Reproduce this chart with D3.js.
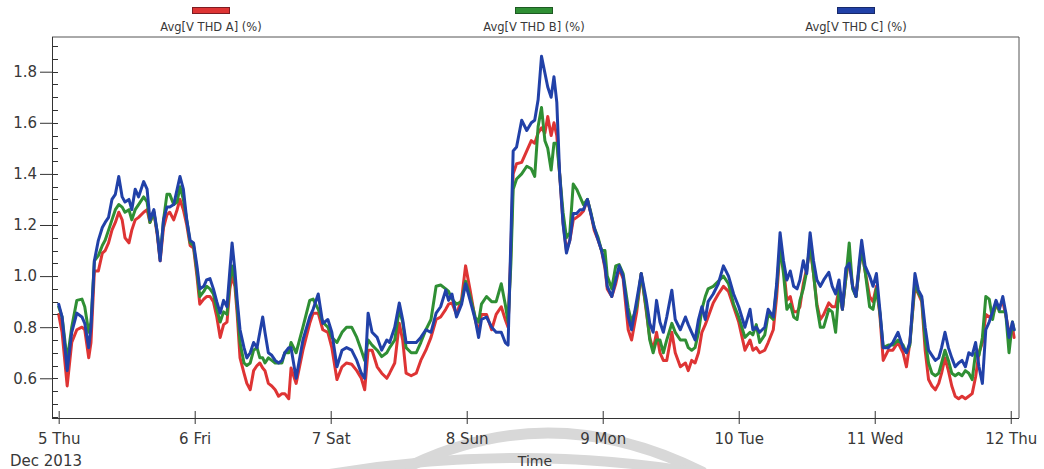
<!DOCTYPE html>
<html>
<head>
<meta charset="utf-8">
<script src="https://cdn.jsdelivr.net/npm/d3@7"></script>
<style>
  body { margin: 0; background: #fff; }
  svg { display: block; font-family: "DejaVu Sans", Verdana, sans-serif; }
</style>
</head>
<body>
<svg id="chart" width="1044" height="469"></svg>
<script>
// Voltage THD averages, one sample list per phase, hours after 5 Dec 2013 00:00
const seriesNames = ["Avg[V THD A] (%)", "Avg[V THD B] (%)", "Avg[V THD C] (%)"];
const seriesColors = ["#de3434", "#2f8f34", "#2141a8"];
const swatchBorders = ["#7d1c22", "#1d5a22", "#17296a"];

const hours = [
  0,0.6,1.5,2.3,3.2,4.1,4.6,5.3,5.7,6.3, 7.0,7.7,8.2,8.8,9.4,10.0,10.6,11.2,11.7,12.4,
  12.9,13.5,14.1,15.0,15.6,16.1,16.8,17.4,17.9,18.5, 19.1,19.6,20.3,20.9,21.4,22.0,22.6,23.2,23.8,
  24.4,24.9,25.6,26.1,26.7,27.3,27.9,28.5,29.1,29.7, 30.2,30.6,31.1,31.5,32.0,32.7,33.2,33.8,34.4,35.0,
  35.5,36.0,36.4,37.0,37.6,38.2,38.8,39.4,39.9,40.6, 41.0,41.9,43.1,44.3,44.9,45.8,46.6,47.5,
  48.2,49.1,50.0,50.8,51.7,52.6,53.4,54.0,54.6,55.3, 56.2,57.0,57.9,58.4,59.3,60.1,60.7,61.3,62.2,63.1,
  63.9,64.8,65.7,66.6,67.4,68.3,68.8,69.4,70.2,71.1, 71.8,
  72.6,73.5,74.1,74.6,75.5,76.4,77.2,78.1,78.8,79.3, 79.8,80.2,80.8,81.7,82.6,83.4,84.0,84.6,85.2,85.8,
  86.3,86.9,87.4,87.9,88.4,89.0,89.6,90.2,90.8,91.4, 92.0,92.6,93.3,93.9,94.5,95.2,95.8,
  96.4,96.8,97.6,98.3,98.9,99.6,100.5,101.1,102.0,102.8, 103.7,104.3,104.9,105.5,106.1,106.7,107.3,108.2,108.8,109.7,
  110.6,111.1,111.7,112.3,112.9,113.5,114.1,114.6,115.5,116.4, 117.3,118.2,119.1,
  120.0,121.1,122.0,122.5,123.1,123.7,124.6,125.2,126.1,126.7, 127.3,127.9,128.5,129.1,129.7,130.3,130.8,131.4,132.0,132.6,
  133.2,133.8,134.4,135.0,135.9,136.5,137.1,137.7,138.3,138.9, 139.5,140.1,140.7,141.3,141.7,142.3,143.1,143.7,
  144.3,144.9,145.5,146.4,147.2,148.1,149.0,149.6,150.2,151.1, 151.7,152.3,152.9,153.5,154.1,154.7,155.3,155.8,156.4,157.0,
  157.6,158.2,158.8,159.4,160.0,160.6,161.2,161.8,162.4,163.0, 163.6,164.2,164.8,165.4,166.0,166.6,167.1,167.7,168.3,168.6
];

const thdA = [
  .85,.78,.57,.74,.79,.80,.79,.68,.74,1.02, 1.02,1.09,1.10,1.13,1.18,1.21,1.25,1.22,1.15,1.13,
  1.18,1.22,1.23,1.25,1.26,1.21,1.25,1.16,1.06,1.19, 1.24,1.25,1.22,1.26,1.30,1.26,1.20,1.12,1.11,
  1.00,.89,.91,.92,.92,.90,.84,.76,.81,.82, .95,1.00,.96,.85,.68,.62,.58,.555,.63,.65,
  .66,.64,.63,.58,.57,.555,.53,.54,.54,.52, .64,.58,.71,.815,.855,.855,.79,.78,
  .72,.595,.645,.66,.655,.63,.60,.555,.71,.71, .645,.62,.60,.62,.66,.815,.75,.62,.61,.62,
  .67,.71,.76,.83,.84,.87,.89,.895,.85,.91, 1.04,
  .945,.83,.78,.85,.85,.79,.85,.88,.83,.80, 1.10,1.40,1.44,1.445,1.49,1.53,1.52,1.56,1.58,1.56,
  1.625,1.55,1.60,1.55,1.40,1.21,1.10,1.14,1.22,1.23, 1.24,1.255,1.30,1.245,1.18,1.14,1.10,
  1.03,.95,.92,.97,1.03,.99,.79,.75,.86,1.01, .86,.76,.71,.78,.70,.67,.67,.78,.70,.645,
  .66,.63,.67,.66,.70,.78,.81,.84,.895,.93, .96,.94,.88,
  .82,.71,.75,.71,.72,.70,.71,.74,.79,.92, 1.11,1.04,.905,.92,.86,.86,.88,.97,1.03,1.11,
  1.01,.89,.83,.85,.895,.88,.88,.95,.87,.99, 1.07,.96,.92,1.04,1.10,1.02,.92,.90,
  .96,.85,.67,.71,.71,.74,.70,.645,.74,.96, .93,.90,.71,.595,.57,.555,.58,.62,.68,.63,
  .57,.53,.52,.53,.52,.53,.54,.605,.70,.74, .85,.84,.85,.88,.88,.90,.85,.78,.80,.76
];

const thdB = [
  .88,.84,.67,.80,.905,.91,.88,.78,.82,1.06, 1.08,1.12,1.14,1.18,1.22,1.26,1.28,1.27,1.25,1.26,
  1.22,1.26,1.28,1.31,1.29,1.21,1.25,1.17,1.07,1.22, 1.32,1.32,1.28,1.29,1.35,1.30,1.22,1.13,1.12,
  1.02,.92,.94,.96,.95,.93,.87,.82,.86,.85, .98,1.04,.98,.88,.74,.66,.65,.66,.71,.72,
  .68,.68,.66,.68,.67,.66,.66,.66,.70,.70, .74,.70,.80,.905,.91,.87,.82,.80,
  .76,.74,.78,.80,.80,.76,.71,.67,.75,.73, .71,.685,.70,.72,.75,.87,.82,.72,.70,.70,
  .74,.79,.83,.96,.965,.95,.94,.91,.89,.90, .98,
  .92,.84,.82,.89,.92,.90,.90,.97,.89,.82, 1.05,1.34,1.38,1.40,1.43,1.42,1.39,1.585,1.66,1.53,
  1.50,1.415,1.52,1.52,1.40,1.25,1.15,1.17,1.36,1.34, 1.31,1.28,1.30,1.25,1.19,1.15,1.10,
  1.10,1.00,.95,1.04,1.045,1.01,.875,.82,.88,1.01, .87,.75,.70,.75,.75,.70,.75,.815,.78,.75,
  .75,.72,.71,.72,.78,.87,.92,.95,.96,.98, 1.00,.97,.89,
  .84,.76,.78,.77,.81,.74,.77,.85,.83,.96, 1.11,1.01,.87,.89,.84,.83,.905,.95,1.02,1.13,
  1.01,.88,.80,.80,.87,.86,.78,.95,.87,.99, 1.13,.95,.92,1.04,1.10,1.02,.88,.87,
  .95,.86,.72,.73,.73,.75,.73,.70,.73,.98, .935,.91,.75,.66,.62,.61,.62,.66,.71,.67,
  .62,.61,.62,.61,.63,.62,.595,.70,.69,.76, .92,.91,.83,.90,.86,.86,.86,.70,.82,.79
];

const thdC = [
  .89,.84,.63,.78,.855,.84,.815,.72,.80,1.06, 1.14,1.19,1.21,1.23,1.30,1.32,1.39,1.31,1.29,1.30,
  1.26,1.34,1.31,1.37,1.34,1.22,1.26,1.17,1.06,1.22, 1.27,1.27,1.28,1.34,1.39,1.34,1.22,1.14,1.13,
  1.04,.95,.96,.985,.99,.95,.90,.855,.905,.88, 1.02,1.13,1.02,.905,.79,.72,.68,.70,.74,.72,
  .78,.84,.78,.70,.69,.67,.66,.67,.70,.72, .72,.60,.75,.84,.87,.93,.815,.83,
  .78,.645,.71,.72,.71,.67,.62,.60,.855,.78, .76,.71,.75,.74,.80,.895,.83,.74,.74,.74,
  .76,.79,.78,.855,.88,.945,.905,.93,.84,.89, .97,
  .905,.83,.76,.83,.84,.80,.78,.78,.74,.73, 1.15,1.49,1.505,1.61,1.57,1.60,1.61,1.69,1.86,1.795,
  1.74,1.70,1.78,1.68,1.40,1.205,1.09,1.14,1.245,1.245, 1.26,1.26,1.30,1.245,1.19,1.14,1.10,
  1.04,.96,.92,.985,1.04,1.00,.84,.79,.905,1.01, .905,.815,.78,.905,.82,.78,.84,.945,.83,.79,
  .84,.81,.78,.75,.83,.88,.83,.90,.93,.97, 1.04,1.00,.93,
  .88,.80,.87,.79,.80,.78,.80,.87,.84,.97, 1.17,1.06,.985,1.02,.96,.95,.985,1.06,1.01,1.17,
  1.06,.985,.96,.985,1.015,.96,.93,.985,.87,1.03, 1.05,.96,.92,1.06,1.14,1.04,1.00,.96,
  1.01,.87,.72,.72,.74,.78,.72,.70,.74,1.01, .945,.92,.80,.71,.69,.67,.68,.72,.78,.72,
  .68,.645,.66,.67,.645,.70,.69,.74,.645,.58, .79,.82,.86,.905,.87,.92,.86,.76,.82,.79
];

const dayLabels = ["5 Thu", "6 Fri", "7 Sat", "8 Sun", "9 Mon", "10 Tue", "11 Wed", "12 Thu"];
const yTickValues = [0.6, 0.8, 1.0, 1.2, 1.4, 1.6, 1.8];
const monthLabel = "Dec 2013";
const xTitle = "Time";

// ---- layout ----
const W = 1044, H = 469;
const plot = { left: 52, top: 37, right: 1019, bottom: 418 };
const startDay = new Date(2013, 11, 5);
const atHour = h => new Date(startDay.getTime() + h * 3600e3);

const x = d3.scaleTime()
  .domain([atHour(-1.18), atHour(169.46)])
  .range([plot.left, plot.right]);
const y = d3.scaleLinear()
  .domain([0.4446, 1.9358])
  .range([plot.bottom, plot.top]);

const svg = d3.select("#chart");
const textColor = "#383838";

// faint circular watermark strokes behind the axis labels
const wm = svg.append("g").attr("fill", "none").attr("stroke", "#d8d8d8").attr("stroke-linecap", "round");
wm.append("path").attr("d", "M398,472 Q546,394 702,472").attr("stroke-width", 11);
wm.append("path").attr("d", "M318,476 Q520,440 716,476").attr("stroke-width", 10);

// clip region for the traces
svg.append("defs").append("clipPath").attr("id", "plotClip")
  .append("rect")
  .attr("x", plot.left + 1).attr("y", plot.top + 1)
  .attr("width", plot.right - plot.left - 2).attr("height", plot.bottom - plot.top - 2);

// traces
const series = [thdA, thdB, thdC].map((vals, i) => ({
  name: seriesNames[i],
  color: seriesColors[i],
  points: vals.map((v, j) => ({ t: atHour(hours[j]), v })).filter(p => !isNaN(p.t))
}));

const line = d3.line().x(d => x(d.t)).y(d => y(d.v));

svg.append("g").attr("clip-path", "url(#plotClip)")
  .selectAll("path").data(series).join("path")
  .attr("d", d => line(d.points))
  .attr("fill", "none")
  .attr("stroke", d => d.color)
  .attr("stroke-width", 3)
  .attr("stroke-linejoin", "round")
  .attr("stroke-linecap", "round");

// frame (top and right edges)
svg.append("path")
  .attr("d", `M${plot.left},${plot.top}H${plot.right}V${plot.bottom}`)
  .attr("fill", "none").attr("stroke", "#555").attr("stroke-width", 1);

// y axis: long outer major ticks, short inner ticks every 0.05
const yAxis = d3.axisLeft(y)
  .tickValues(yTickValues)
  .tickFormat(d3.format(".1f"))
  .tickSizeInner(12).tickSizeOuter(0).tickPadding(3);
const gy = svg.append("g").attr("transform", `translate(${plot.left},0)`).call(yAxis);
gy.select(".domain").remove();
gy.selectAll("line").attr("stroke", "#333");
gy.selectAll("text").attr("font-size", 15).attr("fill", textColor).attr("font-family", "DejaVu Sans, sans-serif");

const minorY = d3.range(0.45, 1.93, 0.05).filter(v => y(v) <= plot.bottom && y(v) >= plot.top);
svg.append("g").selectAll("line").data(minorY).join("line")
  .attr("x1", plot.left).attr("x2", plot.left + 6)
  .attr("y1", d => Math.round(y(d)) + 0.5).attr("y2", d => Math.round(y(d)) + 0.5)
  .attr("stroke", "#333");

svg.append("line")
  .attr("x1", plot.left + 0.5).attr("x2", plot.left + 0.5)
  .attr("y1", plot.top).attr("y2", plot.bottom)
  .attr("stroke", "#333");

// x axis with day ticks crossing the baseline
const dayTicks = dayLabels.map((_, i) => d3.timeDay.offset(startDay, i));
const xAxis = d3.axisBottom(x)
  .tickValues(dayTicks)
  .tickFormat((d, i) => dayLabels[i])
  .tickSizeInner(6).tickSizeOuter(0).tickPadding(9);
const gx = svg.append("g").attr("transform", `translate(0,${plot.bottom})`).call(xAxis);
gx.select(".domain").remove();
gx.selectAll("line").attr("stroke", "#333").attr("y1", -7);
gx.selectAll("text").attr("font-size", 15).attr("fill", textColor).attr("font-family", "DejaVu Sans, sans-serif");

svg.append("line")
  .attr("x1", plot.left).attr("x2", plot.right)
  .attr("y1", plot.bottom + 0.5).attr("y2", plot.bottom + 0.5)
  .attr("stroke", "#333");

svg.append("text").text(monthLabel)
  .attr("x", 10).attr("y", 466)
  .attr("font-size", 15).attr("fill", textColor);

svg.append("text").text(xTitle)
  .attr("x", 535).attr("y", 466).attr("text-anchor", "middle")
  .attr("font-size", 14).attr("fill", textColor);

// legend across the top
const legendCenters = [211, 534, 856];
const lg = svg.append("g").selectAll("g").data(series).join("g")
  .attr("transform", (d, i) => `translate(${legendCenters[i]},0)`);
lg.append("rect")
  .attr("x", -18.5).attr("y", 7.5).attr("width", 37).attr("height", 6)
  .attr("fill", d => d.color)
  .attr("stroke", (d, i) => swatchBorders[i]).attr("stroke-width", 1);
lg.append("text").text(d => d.name)
  .attr("x", 0).attr("y", 31).attr("text-anchor", "middle")
  .attr("font-size", 11.5).attr("fill", textColor);
</script>
</body>
</html>
